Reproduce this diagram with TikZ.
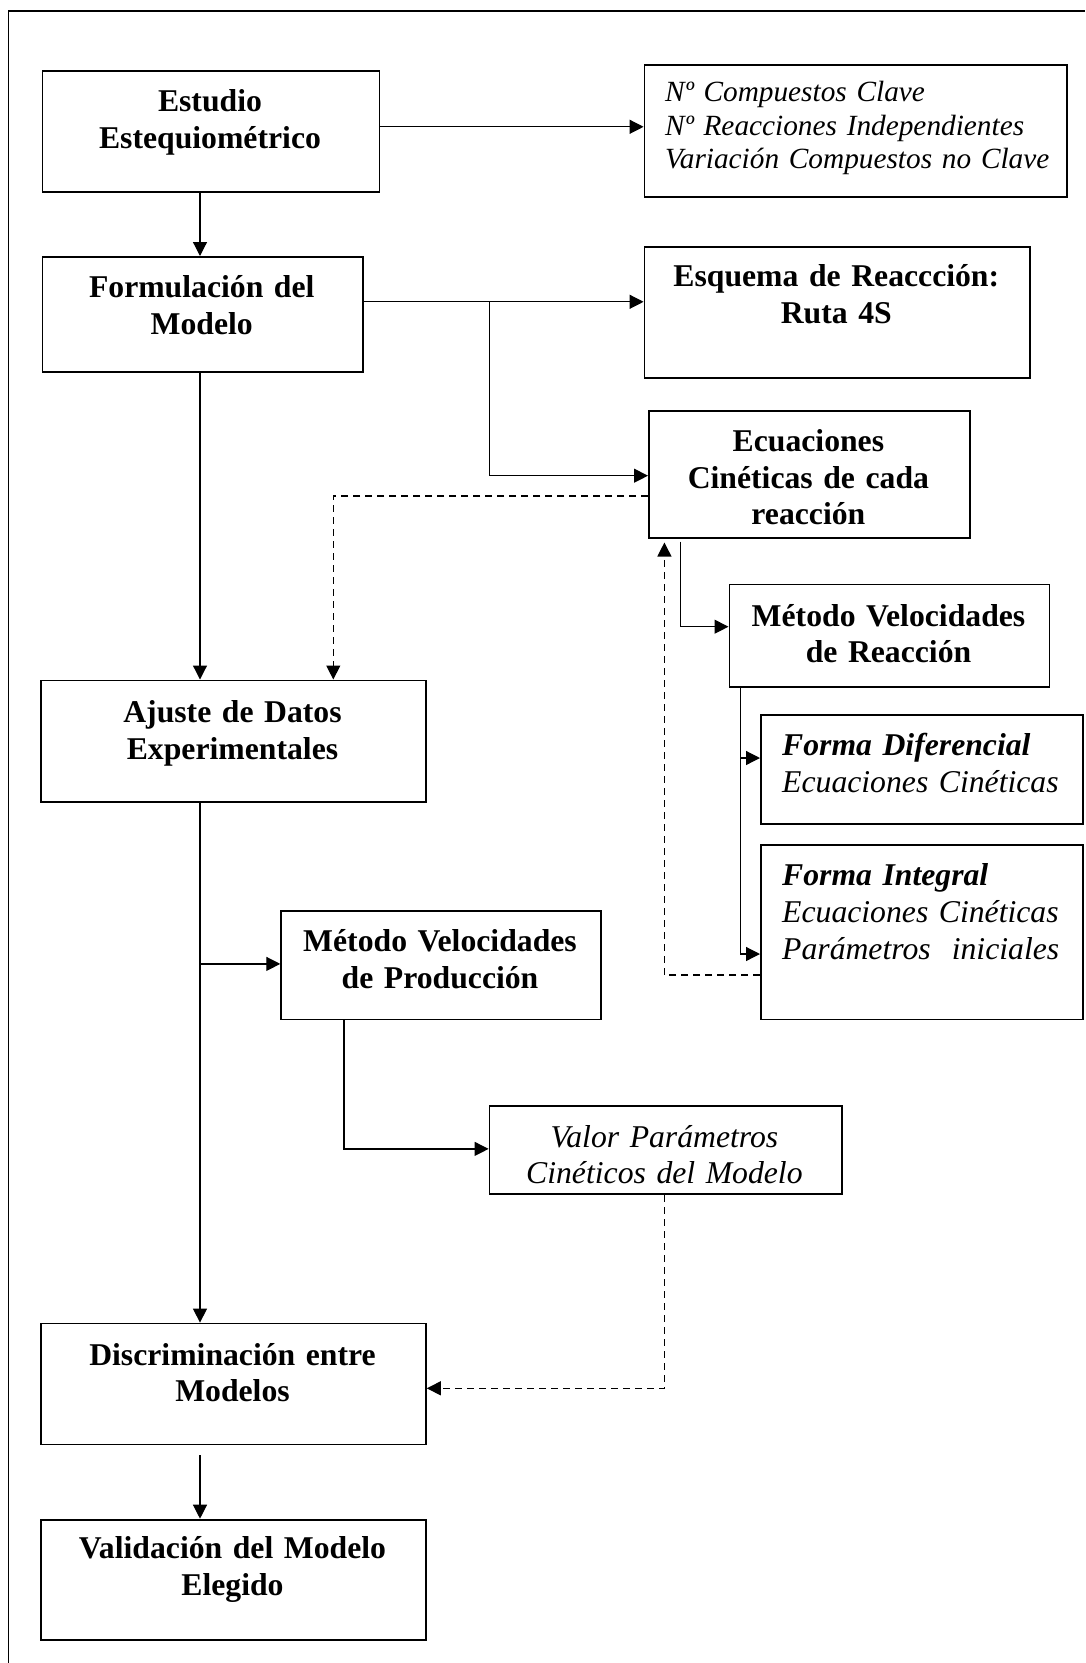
\documentclass[tikz,border=0pt]{standalone}
\usepackage{fontspec}
\setmainfont{Liberation Serif}
\usetikzlibrary{arrows.meta,calc}
\begin{document}
\begin{tikzpicture}[x=1pt,y=-1pt,
  box/.style={draw, line width=1.8pt, inner sep=0pt, anchor=north west},
  btxt/.style={font=\fontsize{31.7}{36.5}\selectfont\bfseries, align=center, text width=420pt, anchor=base, inner sep=0pt},
  itxt/.style={font=\fontsize{31.7}{36.6}\selectfont\itshape, align=center, text width=420pt, anchor=base, inner sep=0pt},
  ltxt/.style={font=\fontsize{31.7}{37.2}\selectfont\itshape, align=left, text width=310pt, anchor=base west, inner sep=0pt},
  stxt/.style={font=\fontsize{29.3}{33.3}\selectfont\itshape, align=left, text width=400pt, anchor=base west, inner sep=0pt},
  arr/.style={line width=1.2pt, -{Triangle[length=14pt,width=14pt]}},
  dsh/.style={dash pattern=on 7pt off 5pt}]
\useasboundingbox (0,0) rectangle (1085,1663);
% outer frame
\draw[line width=1.3pt] (8.5,1663) -- (8.5,11) -- (1085,11);

% boxes
\node[box, minimum width=337pt,   minimum height=121pt]   (estudio)  at (41.5,70) {};
\node[box, minimum width=422.8pt, minimum height=132.1pt] (nclave)   at (643.6,64.3) {};
\node[box, minimum width=320.5pt, minimum height=114.7pt] (formul)   at (41.5,256) {};
\node[box, minimum width=385.4pt, minimum height=131.1pt] (esquema)  at (643.6,245.7) {};
\node[box, minimum width=321pt,   minimum height=126.7pt] (ecuac)    at (648,410) {};
\node[box, minimum width=385pt,   minimum height=121.9pt] (ajuste)   at (40,679.5) {};
\node[box, minimum width=320pt,   minimum height=102.4pt] (metreac)  at (728.5,583.6) {};
\node[box, minimum width=321.7pt, minimum height=109.3pt] (formadif) at (760,714) {};
\node[box, minimum width=321.7pt, minimum height=174.3pt] (formaint) at (760,844.3) {};
\node[box, minimum width=319.7pt, minimum height=108.2pt] (metprod)  at (280.3,910.4) {};
\node[box, minimum width=352.2pt, minimum height=88pt]    (valor)    at (488.6,1105.4) {};
\node[box, minimum width=385pt,   minimum height=121pt]   (discrim)  at (40,1322.6) {};
\node[box, minimum width=385pt,   minimum height=120.3pt] (valid)    at (40,1518.7) {};

% texts
\node[btxt] (estudioT) at (210,111.8) {Estudio\\Estequiométrico};
\node[stxt] (nclaveT) at (665,101.7) {Nº Compuestos Clave\\Nº Reacciones Independientes\\Variación Compuestos no Clave};
\node[btxt] (formulT) at (201.75,297.5) {Formulación del\\Modelo};
\node[btxt] (esquemaT) at (836.3,286.8) {Esquema de Reaccción:\\Ruta 4S};
\node[btxt] (ecuacT) at (808.4,451.8) {Ecuaciones\\Cinéticas de cada\\reacción};
\node[btxt] (ajusteT) at (232.5,722.5) {Ajuste de Datos\\Experimentales};
\node[btxt] (metreacT) at (888.5,626) {Método Velocidades\\de Reacción};
\node[ltxt] (formadifT) at (782,755) {\textbf{Forma Diferencial}\\Ecuaciones Cinéticas};
\node[ltxt] (formaintT) at (782,885) {\textbf{Forma Integral}\\Ecuaciones Cinéticas\\Parámetros\ \ iniciales};
\node[btxt] (metprodT) at (440,951.8) {Método Velocidades\\de Producción};
\node[itxt] (valorT) at (664.4,1147) {Valor Parámetros\\Cinéticos del Modelo};
\node[btxt] (discrimT) at (232.5,1365) {Discriminación entre\\Modelos};
\node[btxt] (validT) at (232.5,1558.8) {Validación del Modelo\\Elegido};

% helper coordinates
\coordinate (cA) at (200,0);
\coordinate (cB) at (333.3,0);
\coordinate (cC) at (680.7,0);
\coordinate (cD) at (740.3,0);
\coordinate (cE) at (664.4,0);
\coordinate (cF) at (344,0);
\coordinate (rA) at (0,126.8);
\coordinate (rB) at (0,301.8);
\coordinate (bA) at (489.3,301.8);
\coordinate (rC) at (0,475.7);
\coordinate (rD) at (0,496);
\coordinate (rE) at (0,626.7);
\coordinate (rF1) at (0,758);
\coordinate (rF2) at (0,954);
\coordinate (rG) at (0,975);
\coordinate (rH) at (0,963.9);
\coordinate (rI) at (0,1148.9);
\coordinate (rJ) at (0,1388.3);

% connectors
\draw[arr] (estudio.east |- rA) -- (nclave.west |- rA);
\draw[arr] (estudio.south -| cA) -- (formul.north -| cA);
\draw[arr] (formul.east |- rB) -- (esquema.west |- rB);
\draw[arr] (bA) |- (ecuac.west |- rC);
\draw[arr,dsh] (ecuac.west |- rD) -| (ajuste.north -| cB);
\draw[arr] (formul.south -| cA) -- (ajuste.north -| cA);
\draw[arr] ($(ecuac.south -| cC)+(0,3)$) |- (metreac.west |- rE);
\draw[arr] (metreac.south -| cD) |- (formadif.west |- rF1);
\draw[arr] (metreac.south -| cD) |- (formaint.west |- rF2);
\draw[arr,dsh] (formaint.west |- rG) -| ($(ecuac.south -| cE)+(0,4)$);
\draw[arr] (ajuste.south -| cA) -- (discrim.north -| cA);
\draw[arr] (cA |- rH) -- (metprod.west |- rH);
\draw[arr] (metprod.south -| cF) |- (valor.west |- rI);
\draw[arr,dsh] (valor.south -| cE) |- (discrim.east |- rJ);
\draw[arr] ($(discrim.south -| cA)+(0,10)$) -- (valid.north -| cA);
\end{tikzpicture}
\end{document}
